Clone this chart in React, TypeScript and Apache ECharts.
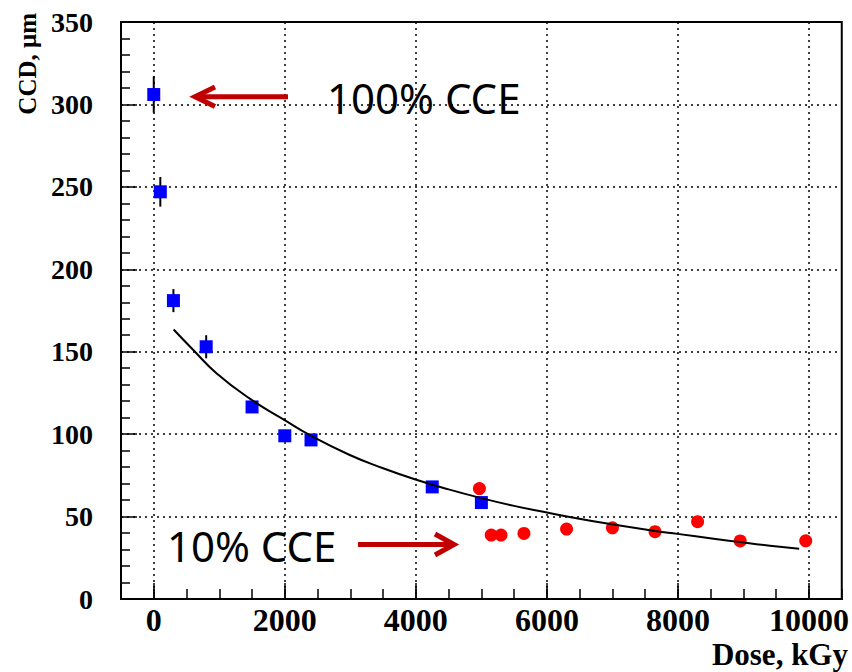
import React, { useEffect, useRef } from "react";
import * as echarts from "echarts";

// X axis major tick labels
const xMajorTicks = [0, 2000, 4000, 6000, 8000, 10000];

// Blue squares (dose, CCD, error)
const blueDose = [0, 100, 300, 800, 1500, 2000, 2400, 4250, 5000];
const blueCCD = [306, 247, 181, 153, 116.5, 99, 96.5, 68, 58.5];
const blueErr = [11, 9, 7, 7, 0, 0, 0, 0, 0];

// Red circles (dose, CCD)
const redDose = [4970, 5150, 5300, 5650, 6300, 7000, 7650, 8300, 8950, 9950];
const redCCD = [67, 38.8, 38.8, 39.8, 42.4, 43.2, 40.8, 46.9, 35.2, 35.3];

// Fit curve
const fitDose = [303, 607, 961, 1467, 1998, 2377, 2983, 3489, 3995, 4500, 4970, 5500, 6002, 6472, 6988, 7650, 7993, 8545, 8949, 9404, 9850];
const fitCCD = [163.5, 150.9, 136.8, 121.5, 108.5, 99.5, 87.5, 79.5, 72.5, 66.5, 61.5, 56.5, 52.5, 48.8, 45.3, 41.3, 39.5, 36.6, 34.5, 32.3, 30.5];

const annotTop = "100% CCE";
const annotBottom = "10% CCE";
const xTitle = "Dose, kGy";
const yTitle = "CCD, μm";

export default function App() {
  const ref = useRef<HTMLDivElement>(null);
  useEffect(() => {
    const chart = echarts.init(ref.current as HTMLDivElement, null, { renderer: "svg" });
    const serif = "Liberation Serif";
    const arrowColor = "#c00000";
    const dotted = { color: "#000", width: 1.5, type: [2, 4] as number[] };

    const option: any = {
      animation: false,
      backgroundColor: "#fff",
      grid: {
        left: 121,
        right: 6,
        top: 22,
        bottom: 73,
        show: true,
        borderColor: "#000",
        borderWidth: 2,
        backgroundColor: "transparent",
      },
      xAxis: [
        {
          type: "value",
          min: -500,
          max: 10500,
          position: "bottom",
          axisLine: { show: true, onZero: false, lineStyle: { color: "#000", width: 2 } },
          axisTick: { show: true, inside: true, length: 16, customValues: xMajorTicks, lineStyle: { color: "#000", width: 1.5 } },
          axisLabel: {
            show: true,
            customValues: xMajorTicks,
            formatter: (v: number) => String(v),
            margin: 5,
            color: "#000",
            fontFamily: serif,
            fontWeight: "bold",
            fontSize: 32,
          },
          splitLine: { show: true, lineStyle: dotted },
        },
        {
          type: "value",
          min: -500,
          max: 10500,
          interval: 500,
          position: "bottom",
          axisLine: { show: false, onZero: false },
          axisTick: { show: true, inside: true, length: 10, lineStyle: { color: "#000", width: 1.5 } },
          axisLabel: { show: false },
          splitLine: { show: false },
        },
      ],
      yAxis: {
        type: "value",
        min: 0,
        max: 350,
        interval: 50,
        axisLine: { show: true, onZero: false, lineStyle: { color: "#000", width: 2 } },
        axisTick: { show: true, inside: true, length: 16, lineStyle: { color: "#000", width: 1.5 } },
        minorTick: { show: true, splitNumber: 5, length: 9, lineStyle: { color: "#000", width: 1.5 } },
        axisLabel: {
          margin: 28,
          color: "#000",
          fontFamily: serif,
          fontWeight: "bold",
          fontSize: 28,
        },
        splitLine: { show: true, lineStyle: dotted },
      },
      series: [
        {
          type: "custom",
          xAxisIndex: 0,
          yAxisIndex: 0,
          z: 2,
          data: blueDose
            .map((x, i) => [x, blueCCD[i], blueErr[i]])
            .filter((d) => d[2] > 0),
          encode: { x: 0, y: 1 },
          renderItem: (params: any, api: any) => {
            const x = api.value(0);
            const y = api.value(1);
            const e = api.value(2);
            const p1 = api.coord([x, y - e]);
            const p2 = api.coord([x, y + e]);
            return {
              type: "line",
              shape: { x1: p1[0], y1: p1[1], x2: p2[0], y2: p2[1] },
              style: { stroke: "#000", lineWidth: 2 },
            };
          },
        },
        {
          type: "scatter",
          name: "irradiated",
          xAxisIndex: 0,
          z: 3,
          symbol: "circle",
          symbolSize: 13,
          itemStyle: { color: "#ff0000", opacity: 1 },
          data: redDose.map((x, i) => [x, redCCD[i]]),
        },
        {
          type: "scatter",
          name: "measured",
          xAxisIndex: 0,
          z: 4,
          symbol: "rect",
          symbolSize: 13,
          itemStyle: { color: "#0000ff", opacity: 1 },
          data: blueDose.map((x, i) => [x, blueCCD[i]]),
        },
        {
          type: "line",
          name: "fit",
          xAxisIndex: 0,
          z: 5,
          smooth: true,
          showSymbol: false,
          lineStyle: { color: "#000", width: 2 },
          data: fitDose.map((x, i) => [x, fitCCD[i]]),
        },
      ],
      graphic: [
        {
          type: "text",
          x: 848,
          y: 654,
          z: 10,
          style: {
            text: xTitle,
            fontFamily: serif,
            fontWeight: "bold",
            fontSize: 31,
            fill: "#000",
            align: "right",
            verticalAlign: "middle",
          },
        },
        {
          type: "text",
          x: 27,
          y: 13,
          rotation: Math.PI / 2,
          z: 10,
          style: {
            text: yTitle,
            fontFamily: serif,
            fontWeight: "bold",
            fontSize: 25,
            fill: "#000",
            align: "right",
            verticalAlign: "middle",
          },
        },
        {
          type: "text",
          x: 327,
          y: 97,
          z: 10,
          style: {
            text: annotTop,
            fontFamily: "Noto Sans",
            fontSize: 42,
            fill: "#000",
            align: "left",
            verticalAlign: "middle",
          },
        },
        {
          type: "text",
          x: 167,
          y: 545,
          z: 10,
          style: {
            text: annotBottom,
            fontFamily: "Noto Sans",
            fontSize: 42,
            fill: "#000",
            align: "left",
            verticalAlign: "middle",
          },
        },
        {
          type: "line",
          z: 10,
          shape: { x1: 288, y1: 96.7, x2: 197, y2: 96.7 },
          style: { stroke: arrowColor, lineWidth: 5 },
        },
        {
          type: "polyline",
          z: 10,
          shape: { points: [[215, 87], [195, 96.7], [215, 106.5]] },
          style: { stroke: arrowColor, lineWidth: 5, fill: null, lineJoin: "miter" },
        },
        {
          type: "line",
          z: 10,
          shape: { x1: 358, y1: 544.5, x2: 452, y2: 544.5 },
          style: { stroke: arrowColor, lineWidth: 5 },
        },
        {
          type: "polyline",
          z: 10,
          shape: { points: [[435, 534], [454, 544.5], [435, 555]] },
          style: { stroke: arrowColor, lineWidth: 5, fill: null, lineJoin: "miter" },
        },
      ],
    };
    chart.setOption(option);
    return () => chart.dispose();
  }, []);
  return (
    <div
      ref={ref}
      style={{ position: "fixed", left: 0, top: 0, width: 852, height: 672, background: "#fff" }}
    />
  );
}
